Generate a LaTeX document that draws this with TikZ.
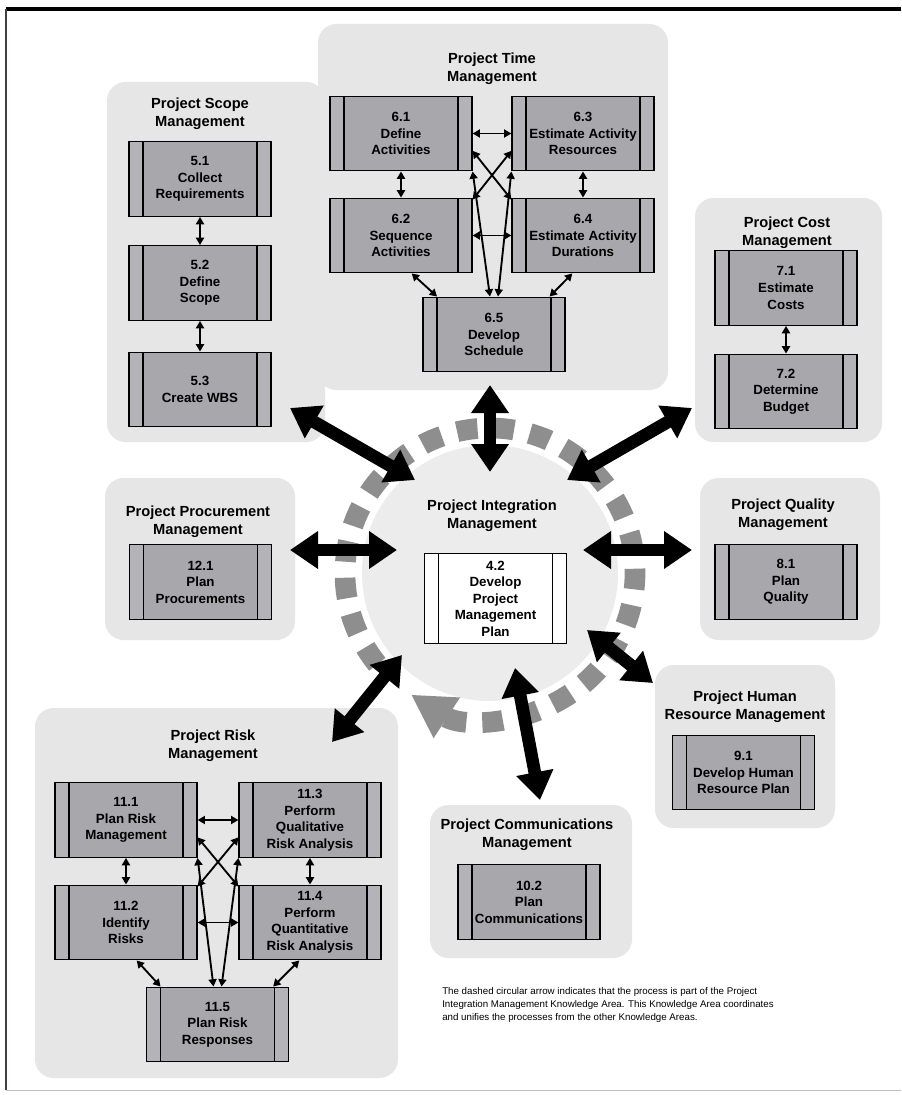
\documentclass[tikz,border=0pt]{standalone}
\usepackage{fontspec}
\setmainfont{Liberation Sans}
\usetikzlibrary{arrows.meta}
\definecolor{PMBox}{HTML}{A7A7AC}
\definecolor{PMStrip}{HTML}{B4B4B8}
\definecolor{PMBack}{HTML}{E6E6E6}
\definecolor{PMDash}{HTML}{8E8E8E}
\definecolor{PMFrame}{HTML}{4A3C3C}
\newcommand\procfont{\bfseries\fontsize{10}{12.4}\selectfont}
\newcommand\areafont{\bfseries\fontsize{11}{13.5}\selectfont}
\tikzset{
  procbox/.style={draw=black, line width=0.9pt, fill=PMBox, minimum width=106.5pt,
    minimum height=56pt, inner sep=0pt, align=center, font=\procfont,
    path picture={
      \fill[#1] (path picture bounding box.south west) rectangle ([xshift=10.5pt]path picture bounding box.north west);
      \fill[#1] (path picture bounding box.south east) rectangle ([xshift=-10.5pt]path picture bounding box.north east);
      \draw[line width=0.9pt] ([xshift=10.5pt]path picture bounding box.south west) -- ([xshift=10.5pt]path picture bounding box.north west);
      \draw[line width=0.9pt] ([xshift=-10.5pt]path picture bounding box.south east) -- ([xshift=-10.5pt]path picture bounding box.north east);
    }},
  procbox/.default=PMStrip,
  areatitle/.style={align=center, font=\areafont, inner sep=1pt},
  groupback/.style={fill=PMBack, rounded corners=14pt},
  thinarrow/.style={line width=1.4pt, {Triangle[length=5.5pt,width=6pt]}-{Triangle[length=5.5pt,width=6pt]}},
  bigarrow/.style={line width=9.5pt, {Triangle[length=21pt,width=27pt]}-{Triangle[length=21pt,width=27pt]}}
}
\begin{document}
\begin{tikzpicture}[x=0.75pt,y=-0.75pt]
\path[use as bounding box] (0,0) rectangle (901,1095);
\fill[white] (0,0) rectangle (901,1095);
% frame
\draw[line width=2.4pt] (6,9) -- (901,9);
\draw[PMFrame,line width=0.8pt] (6,9) -- (6,1090);
\draw[gray!50,line width=0.6pt] (6,1090) -- (901,1090);

% area backgrounds
\fill[groupback] (107,82) rectangle (325,442);
\fill[groupback] (318,24) rectangle (668,390);
\fill[groupback] (695,198) rectangle (882,442);
\fill[groupback] (105,478) rectangle (295,640);
\fill[groupback] (700,478) rectangle (880,640);
\fill[groupback] (655,665) rectangle (835,828);
\fill[groupback] (35,708) rectangle (398,1078);
\fill[groupback] (430,805) rectangle (632,958);
\fill[PMBack!75] (490,573) circle[radius=128];

% dashed circular arrow
\draw[PMDash,line width=15.5pt,dash pattern=on 15.5pt off 12pt,-{Triangle[length=32pt,width=34pt]}]
  (490,573) ++(141:145) arc[start angle=141,end angle=483,radius=145];

% Scope
\node[areatitle] (scopeT) at (200,114) {Project Scope\\Management};
\node[procbox] (s51) at (200,179) {5.1\\Collect\\Requirements};
\node[procbox] (s52) at (200,283) {5.2\\Define\\Scope};
\node[procbox] (s53) at (200,389.5) {5.3\\Create WBS};
\draw[thinarrow] (s51) -- (s52);
\draw[thinarrow] (s52) -- (s53);

% Time
\node[areatitle] (timeT) at (492,69) {Project Time\\Management};
\node[procbox] (t61) at (401,133.5) {6.1\\Define\\Activities};
\node[procbox] (t63) at (583,133.5) {6.3\\Estimate Activity\\Resources};
\node[procbox] (t62) at (401,235.5) {6.2\\Sequence\\Activities};
\node[procbox] (t64) at (583,235.5) {6.4\\Estimate Activity\\Durations};
\node[procbox] (t65) at (494,334.5) {6.5\\Develop\\Schedule};
\draw[thinarrow] (t61) -- (t63);
\draw[thinarrow] (t62) -- (t64);
\draw[thinarrow] (t61) -- (t62);
\draw[thinarrow] (t63) -- (t64);
\draw[thinarrow] ([yshift=-13pt]t61.east) -- ([yshift=-1.5pt]t64.north west);
\draw[thinarrow] ([yshift=-13pt]t63.west) -- ([yshift=-1.5pt]t62.north east);
\draw[thinarrow] (t61.south east) -- ([xshift=-3pt]t65.north);
\draw[thinarrow] (t63.south west) -- ([xshift=3pt]t65.north);
\draw[thinarrow] ([xshift=8pt]t62.south) -- ([xshift=11pt]t65.north west);
\draw[thinarrow] ([xshift=-8pt]t64.south) -- ([xshift=-12pt]t65.north east);

% Cost
\node[areatitle] (costT) at (787,233) {Project Cost\\Management};
\node[procbox] (c71) at (786,288) {7.1\\Estimate\\Costs};
\node[procbox] (c72) at (786,391.5) {7.2\\Determine\\Budget};
\draw[thinarrow] (c71) -- (c72);

% Procurement
\node[areatitle] (procT) at (198,522) {Project Procurement\\Management};
\node[procbox] (p121) at (200.5,582) {12.1\\Plan\\Procurements};

% Integration
\node[areatitle] (integT) at (492,516) {Project Integration\\Management};
\node[procbox=white,fill=white,minimum height=68pt] (i42) at (495.5,598.5) {4.2\\Develop\\Project\\Management\\Plan};

% Quality
\node[areatitle] (qualT) at (783,515) {Project Quality\\Management};
\node[procbox] (q81) at (786,582) {8.1\\Plan\\Quality};

% Human Resource
\node[areatitle] (hrT) at (745,707) {Project Human\\Resource Management};
\node[procbox] (h91) at (743.5,772.5) {9.1\\Develop Human\\Resource Plan};

% Communications
\node[areatitle] (commT) at (527,835) {Project Communications\\Management};
\node[procbox] (m102) at (529,902) {10.2\\Plan\\Communications};

% Risk
\node[areatitle] (riskT) at (213,746) {Project Risk\\Management};
\node[procbox] (r111) at (126,820) {11.1\\Plan Risk\\Management};
\node[procbox] (r113) at (310,820) {11.3\\Perform\\Qualitative\\Risk Analysis};
\node[procbox] (r112) at (126,922.5) {11.2\\Identify\\Risks};
\node[procbox] (r114) at (310,922.5) {11.4\\Perform\\Quantitative\\Risk Analysis};
\node[procbox] (r115) at (217.5,1024.5) {11.5\\Plan Risk\\Responses};
\draw[thinarrow] (r111) -- (r113);
\draw[thinarrow] (r112) -- (r114);
\draw[thinarrow] (r111) -- (r112);
\draw[thinarrow] (r113) -- (r114);
\draw[thinarrow] ([yshift=-13pt]r111.east) -- ([yshift=-1.5pt]r114.north west);
\draw[thinarrow] ([yshift=-13pt]r113.west) -- ([yshift=-1.5pt]r112.north east);
\draw[thinarrow] (r111.south east) -- ([xshift=-3pt]r115.north);
\draw[thinarrow] (r113.south west) -- ([xshift=3pt]r115.north);
\draw[thinarrow] ([xshift=8pt]r112.south) -- ([xshift=11pt]r115.north west);
\draw[thinarrow] ([xshift=-8pt]r114.south) -- ([xshift=-12pt]r115.north east);

% links to integration
\coordinate (hubScope) at (415,480);  \coordinate (endScope) at (290,408);
\coordinate (hubTime) at (490,472);   \coordinate (endTime) at (490,385);
\coordinate (hubCost) at (567,480);   \coordinate (endCost) at (692,408);
\coordinate (hubProc) at (397,550);   \coordinate (endProc) at (290,550);
\coordinate (hubQual) at (583,550);   \coordinate (endQual) at (692,550);
\coordinate (hubHR) at (587,630);     \coordinate (endHR) at (653,683);
\coordinate (hubRisk) at (402,655);   \coordinate (endRisk) at (332,742);
\coordinate (hubComm) at (515,668);   \coordinate (endComm) at (540,800);
\draw[bigarrow] (endScope) -- (hubScope);
\draw[bigarrow] (endTime) -- (hubTime);
\draw[bigarrow] (endCost) -- (hubCost);
\draw[bigarrow] (endProc) -- (hubProc);
\draw[bigarrow] (hubQual) -- (endQual);
\draw[bigarrow] (hubHR) -- (endHR);
\draw[bigarrow] (hubRisk) -- (endRisk);
\draw[bigarrow] (hubComm) -- (endComm);

% note
\node[anchor=north west,align=left,inner sep=0pt,font=\fontsize{7.3}{9.8}\selectfont] (note) at (442,987)
  {The dashed circular arrow indicates that the process is part of the Project\\
   Integration Management Knowledge Area. This Knowledge Area coordinates\\
   and unifies the processes from the other Knowledge Areas.};
\end{tikzpicture}
\end{document}
